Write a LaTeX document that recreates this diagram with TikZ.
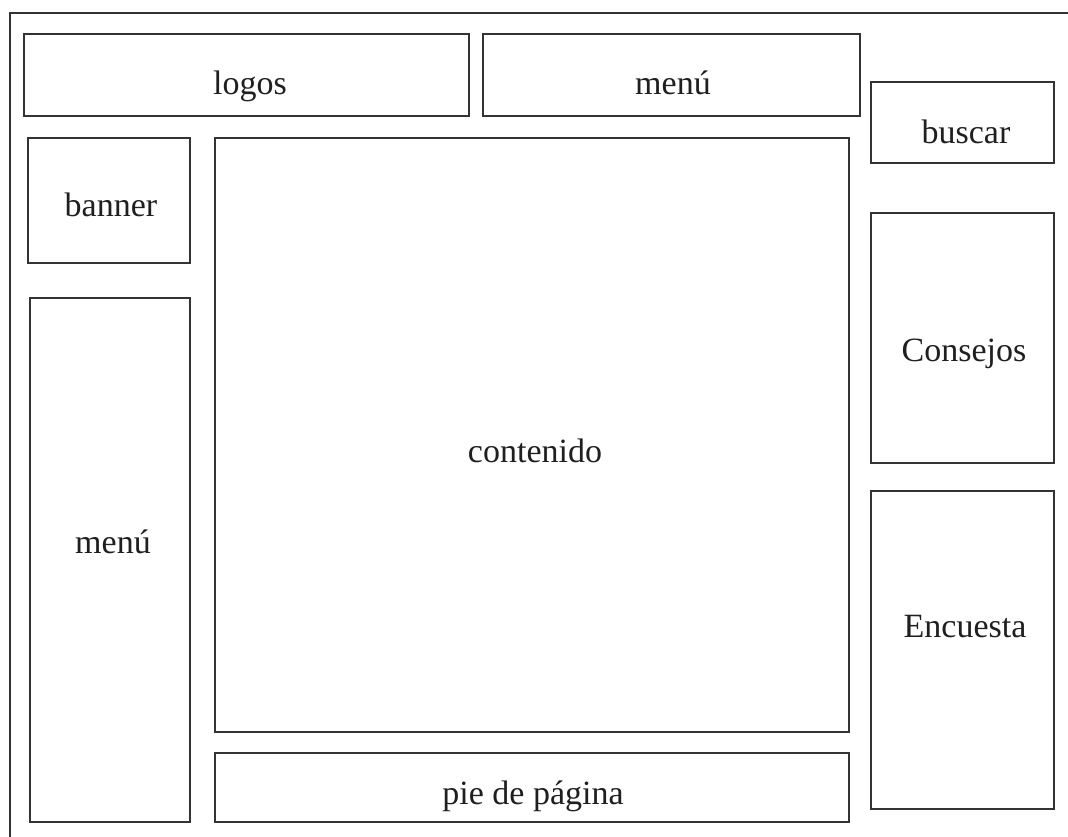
\documentclass[tikz,border=0pt]{standalone}
\usepackage{fontspec}
\setmainfont{Liberation Serif}
\begin{document}
\begin{tikzpicture}[x=1pt,y=-1pt,
  box/.style={draw=black!80,line width=1.3pt,rectangle,inner sep=0pt,outer sep=0pt,anchor=north west},
  lbl/.style={font=\fontsize{34}{40}\selectfont,text=black!88,anchor=base,inner sep=0pt}]
\useasboundingbox[fill=white] (0,0) rectangle (1068,837);
% outer frame (top and left edges visible)
\coordinate (ftl) at (10,13);
\coordinate (ftr) at (1068,13);
\coordinate (fbl) at (10,837);
\draw[black!80,line width=1.3pt] (ftr) -- (ftl) -- (fbl);
% boxes
\node[box,minimum width=445pt,minimum height=82pt] (logos) at (24,34) {};
\node[box,minimum width=377pt,minimum height=82pt] (menutop) at (483,34) {};
\node[box,minimum width=183pt,minimum height=81pt] (buscar) at (871,82) {};
\node[box,minimum width=162pt,minimum height=125pt] (banner) at (28,138) {};
\node[box,minimum width=160pt,minimum height=524pt] (menuleft) at (30,298) {};
\node[box,minimum width=634pt,minimum height=594pt] (contenido) at (215,138) {};
\node[box,minimum width=634pt,minimum height=69pt] (pie) at (215,753) {};
\node[box,minimum width=183pt,minimum height=250pt] (consejos) at (871,213) {};
\node[box,minimum width=183pt,minimum height=318pt] (encuesta) at (871,491) {};
% labels
\node[lbl] (tlogos) at (250,95) {logos};
\node[lbl] (tmenutop) at (673,95) {menú};
\node[lbl] (tbuscar) at (966,144) {buscar};
\node[lbl] (tbanner) at (111,217) {banner};
\node[lbl] (tconsejos) at (964,361) {Consejos};
\node[lbl] (tcontenido) at (535,462) {contenido};
\node[lbl] (tmenuleft) at (113,553) {menú};
\node[lbl] (tencuesta) at (965,637) {Encuesta};
\node[lbl] (tpie) at (533,804) {pie de página};
\end{tikzpicture}
\end{document}
